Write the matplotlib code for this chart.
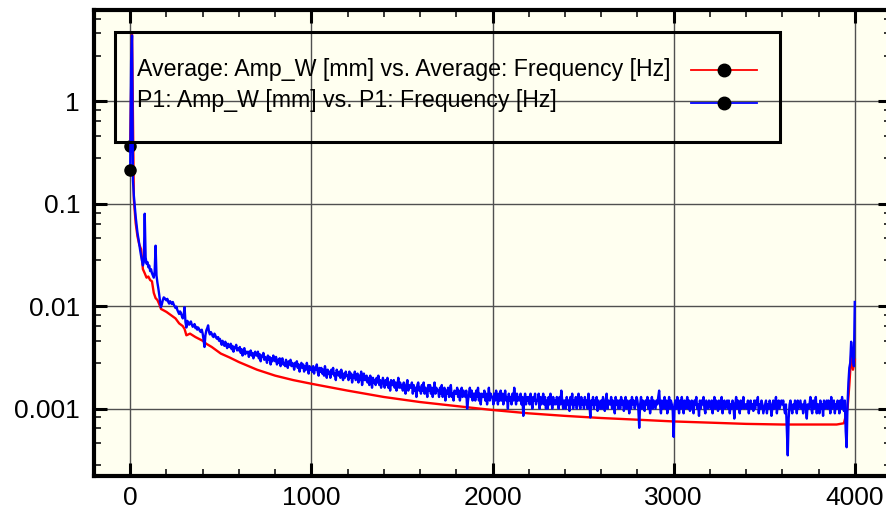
import numpy as np
import matplotlib
matplotlib.use("Agg")
import matplotlib.pyplot as plt
from matplotlib.ticker import FixedLocator, FixedFormatter, MultipleLocator, NullFormatter
from matplotlib.lines import Line2D
from matplotlib.patches import Rectangle

plt.rcParams['font.family'] = ['Liberation Sans', 'DejaVu Sans']

# ---- data -------------------------------------------------------------
# Average spectrum: frequency [Hz] and amplitude [µm]
avg_freq = [0, 10, 20, 30, 40, 50, 60, 70, 80, 90, 100, 110, 120, 130, 140,
            150, 160, 170, 180, 200, 220, 250, 270, 290, 300, 310, 330, 360,
            400, 420, 450, 500, 550, 600, 700, 800, 900, 1000, 1200, 1400,
            1600, 1800, 2000, 2200, 2400, 2600, 2800, 3000, 3200, 3400, 3600,
            3800, 3900, 3940, 3960, 3970, 3980, 3990, 4000]
avg_amp_um = [370, 4600, 110, 65, 48, 40, 36, 23, 21, 19, 19.5, 18, 17.5, 13.5, 12,
              11.5, 10.5, 9.4, 9.2, 8.8, 8.3, 7.6, 6.8, 6.4, 6.0, 5.2, 5.4, 5.0,
              4.6, 4.3, 4.0, 3.45, 3.15, 2.85, 2.4, 2.1, 1.9, 1.75, 1.5, 1.3,
              1.16, 1.06, 0.97, 0.90, 0.85, 0.81, 0.78, 0.75, 0.73, 0.71, 0.70,
              0.70, 0.70, 0.72, 1.0, 1.7, 3.3, 2.4, 3.0]

# P1 spectrum: amplitude [µm] in 5 Hz bins, 0 ... 4000 Hz (one row = 50 Hz)
p1_amp_um = [
    215, 2500, 4400, 170, 120, 95, 75, 62, 52, 46,
    40, 35, 31, 28, 25, 27, 80, 30, 26, 27,
    24, 25, 22, 23, 21, 20, 19, 22, 39, 20,
    17, 15, 13, 11, 9.8, 10.5, 11.5, 12.2, 12, 11.6,
    11.4, 11.8, 11, 10.6, 11.2, 10.8, 10.5, 11, 10.4, 10,
    9.6, 9.9, 9.2, 8.8, 8.4, 8.9, 8.6, 8.0, 7.6, 8.2,
    9.8, 7.0, 6.2, 7.2, 7.0, 6.6, 6.8, 7.1, 6.6, 6.3,
    6.4, 6.7, 6.1, 6.3, 5.9, 6.2, 6.0, 5.7, 5.6, 5.9,
    5.4, 4.7, 4.0, 5.2, 5.8, 6.1, 6.5, 5.6, 5.3, 5.6,
    5.4, 5.1, 5.0, 5.4, 5.2, 4.9, 4.8, 5.0, 4.6, 4.8,
    4.5, 4.2, 4.6, 4.3, 4.1, 4.5, 4.2, 3.9, 4.3, 4.0,
    4.0, 4.3, 3.8, 4.1, 3.6, 4.0, 3.9, 4.2, 3.7, 3.9,
    3.7, 4.0, 3.5, 3.8, 3.3, 3.7, 3.9, 3.4, 3.6, 3.5,
    3.6, 3.2, 3.5, 3.7, 3.3, 3.5, 3.1, 3.4, 3.6, 3.3,
    3.3, 3.6, 3.1, 3.4, 2.9, 3.3, 3.2, 3.5, 3.0, 3.2,
    3.1, 2.8, 3.3, 3.0, 3.2, 2.7, 3.1, 2.9, 3.3, 3.0,
    2.9, 3.2, 2.7, 3.0, 2.8, 3.1, 2.6, 2.9, 3.1, 2.7,
    2.8, 2.6, 3.0, 2.7, 2.5, 2.9, 2.7, 3.0, 2.6, 2.8,
    2.7, 2.4, 2.8, 2.6, 2.9, 2.5, 2.7, 2.3, 2.6, 2.8,
    2.5, 2.7, 2.3, 2.6, 2.4, 2.8, 2.5, 2.2, 2.6, 2.4,
    2.5, 2.3, 2.6, 2.2, 2.5, 2.4, 2.7, 2.3, 2.1, 2.5,
    2.3, 2.5, 2.2, 2.4, 2.1, 2.6, 2.3, 2.0, 2.4, 2.2,
    2.3, 2.0, 2.4, 2.2, 2.5, 2.1, 2.2, 1.9, 2.4, 2.2,
    2.1, 2.3, 2.0, 2.4, 2.1, 1.9, 2.2, 2.0, 2.3, 2.1,
    2.1, 1.9, 2.3, 2.0, 2.2, 1.8, 2.1, 2.0, 2.3, 1.9,
    2.0, 2.2, 1.8, 2.1, 1.9, 2.3, 1.7, 2.0, 2.2, 1.9,
    1.9, 2.1, 1.8, 2.0, 1.7, 2.1, 1.9, 1.6, 2.0, 1.8,
    1.9, 1.7, 2.0, 1.8, 2.1, 1.7, 1.9, 1.6, 1.8, 2.0,
    1.8, 1.6, 1.9, 1.7, 2.0, 1.6, 1.8, 1.5, 1.9, 1.7,
    1.7, 1.9, 1.6, 1.8, 1.5, 1.7, 2.0, 1.6, 1.8, 1.6,
    1.7, 1.5, 1.8, 1.6, 1.4, 1.7, 1.9, 1.5, 1.7, 1.6,
    1.6, 1.8, 1.4, 1.7, 1.5, 1.6, 1.3, 1.7, 1.8, 1.5,
    1.6, 1.4, 1.7, 1.5, 1.8, 1.4, 1.6, 1.5, 1.3, 1.7,
    1.5, 1.7, 1.4, 1.6, 1.3, 1.5, 1.8, 1.4, 1.6, 1.5,
    1.5, 1.3, 1.6, 1.4, 1.7, 1.3, 1.5, 1.6, 1.2, 1.5,
    1.4, 1.6, 1.3, 1.5, 1.7, 1.3, 1.4, 1.2, 1.5, 1.4,
    1.4, 1.6, 1.3, 1.5, 1.2, 1.4, 1.6, 1.3, 1.5, 1.4,
    1.3, 1.5, 1.0, 1.2, 1.4, 1.6, 1.3, 1.5, 1.2, 1.4,
    1.4, 1.2, 1.5, 1.3, 1.6, 1.2, 1.4, 1.1, 1.4, 1.3,
    1.3, 1.5, 1.2, 1.4, 1.1, 1.3, 1.6, 1.2, 1.4, 1.3,
    1.3, 1.1, 1.4, 1.2, 1.5, 1.3, 1.1, 1.4, 1.2, 1.5,
    1.2, 1.4, 1.1, 1.3, 1.5, 1.2, 1.3, 1.0, 1.4, 1.2,
    1.3, 1.1, 1.4, 1.2, 1.6, 1.3, 1.1, 1.4, 1.2, 1.3,
    1.2, 1.4, 1.1, 1.3, 0.85, 1.2, 1.4, 1.1, 1.3, 1.2,
    1.3, 1.1, 1.4, 1.2, 1.0, 1.3, 1.2, 1.4, 1.1, 1.2,
    1.2, 1.4, 1.0, 1.3, 1.1, 1.2, 1.4, 1.1, 1.3, 1.0,
    1.2, 1.0, 1.3, 1.1, 1.4, 1.2, 1.0, 1.3, 1.1, 1.2,
    1.1, 1.3, 1.2, 1.0, 1.3, 1.1, 1.5, 1.2, 1.0, 1.2,
    1.2, 1.0, 1.3, 1.1, 1.2, 0.95, 1.3, 1.1, 1.4, 1.0,
    1.2, 1.1, 1.3, 1.0, 1.2, 1.4, 1.1, 1.0, 1.3, 1.1,
    1.2, 1.0, 1.3, 1.1, 1.2, 1.0, 1.4, 1.1, 0.82, 1.2,
    1.1, 1.3, 1.0, 1.2, 1.1, 1.3, 0.95, 1.2, 1.1, 1.0,
    1.2, 1.0, 1.3, 1.1, 0.95, 1.2, 1.4, 1.0, 1.2, 1.1,
    1.1, 1.3, 1.0, 1.2, 1.1, 0.9, 1.3, 1.1, 1.2, 1.0,
    1.2, 1.0, 1.3, 1.1, 1.2, 0.95, 1.1, 1.3, 1.0, 1.2,
    1.1, 0.9, 1.2, 1.0, 1.3, 1.1, 1.2, 1.0, 1.1, 1.3,
    1.2, 1.0, 0.65, 1.1, 1.3, 1.0, 1.2, 1.1, 0.95, 1.2,
    1.1, 1.3, 1.0, 1.2, 0.9, 1.1, 1.3, 1.0, 1.2, 1.1,
    1.0, 1.2, 1.1, 1.3, 1.5, 1.1, 0.9, 1.2, 1.0, 1.1,
    1.3, 1.0, 1.2, 0.9, 1.1, 1.3, 1.0, 1.2, 1.1, 0.95,
    0.53, 1.1, 1.2, 1.0, 1.3, 1.1, 0.9, 1.2, 1.0, 1.3,
    1.1, 0.9, 1.2, 1.0, 1.1, 1.3, 1.0, 1.2, 0.95, 1.1,
    1.2, 1.0, 0.9, 1.2, 1.1, 1.3, 1.0, 1.1, 0.85, 1.2,
    1.0, 1.2, 1.1, 1.3, 1.0, 0.9, 1.2, 1.1, 1.0, 1.2,
    1.1, 1.0, 1.2, 0.9, 1.1, 1.3, 1.0, 1.2, 1.1, 0.95,
    1.2, 1.0, 1.1, 1.3, 0.9, 1.1, 1.2, 1.0, 1.1, 1.2,
    1.0, 1.2, 0.9, 1.1, 1.0, 1.2, 1.1, 0.8, 1.1, 1.3,
    1.0, 1.2, 1.1, 0.9, 1.2, 1.0, 1.1, 1.3, 1.0, 1.1,
    1.1, 1.0, 1.2, 0.9, 1.1, 1.2, 1.0, 1.1, 0.95, 1.2,
    1.0, 1.2, 1.1, 1.3, 0.9, 1.1, 1.0, 1.2, 1.1, 0.9,
    1.0, 1.1, 1.2, 0.9, 1.1, 1.0, 1.2, 1.1, 0.85, 1.0,
    1.2, 1.0, 1.1, 1.3, 0.9, 1.1, 1.2, 1.0, 1.1, 1.2,
    1.1, 1.2, 1.0, 0.9, 1.1, 0.6, 0.35, 0.8, 1.1, 1.2,
    1.0, 0.9, 1.1, 1.0, 1.2, 1.1, 0.9, 1.2, 1.0, 1.1,
    1.2, 1.0, 1.1, 0.9, 1.1, 1.2, 1.0, 0.8, 1.1, 1.0,
    1.1, 1.3, 1.0, 0.9, 1.2, 1.0, 1.1, 1.3, 0.9, 1.1,
    1.1, 0.9, 1.2, 1.0, 1.1, 0.85, 1.2, 1.0, 1.1, 1.2,
    1.0, 1.2, 1.1, 0.9, 1.3, 1.0, 1.1, 1.2, 0.9, 1.1,
    1.0, 1.2, 1.1, 0.9, 1.2, 1.0, 1.3, 1.1, 0.95, 1.2,
    0.6, 0.42, 1.1, 1.8, 2.5, 2.8, 4.5, 3.6, 3.2, 2.6,
    11,
]
p1_freq = np.arange(len(p1_amp_um)) * 5.0   # bin centres [Hz]

legend_labels = ["Average: Amp_W [mm] vs. Average: Frequency [Hz]",
                 "P1: Amp_W [mm] vs. P1: Frequency [Hz]"]
series_colors = ["#ff0000", "#0000ff"]

x_major = [0, 1000, 2000, 3000, 4000]
x_labels = ["0", "1000", "2000", "3000", "4000"]
y_major = [1e-3, 1e-2, 1e-1, 1]
y_labels = ["0.001", "0.01", "0.1", "1"]
y_minor_mantissa = [2.8, 4.6, 6.4, 8.2]

# ---- figure -----------------------------------------------------------
W, H = 886, 517
fig = plt.figure(figsize=(W / 100, H / 100), dpi=100, facecolor="white")
ax_l, ax_r, ax_t, ax_b = 94, 891, 10, 476
ax = fig.add_axes([ax_l / W, (H - ax_b) / H, (ax_r - ax_l) / W, (ax_b - ax_t) / H])
ax.set_facecolor("#fffff0")

avg_mm = np.array(avg_amp_um) / 1000.0
p1_mm = np.array(p1_amp_um) / 1000.0

ax.plot(avg_freq, avg_mm, color=series_colors[0], lw=1.7, zorder=3,
        marker="o", markevery=[0], ms=8, mfc="black", mec="black")
ax.plot(p1_freq, p1_mm, color=series_colors[1], lw=1.7, zorder=4,
        marker="o", markevery=[0], ms=8, mfc="black", mec="black")

ax.set_yscale("log")
ax.set_xlim(-200, 4200)
ax.set_ylim(2.2e-4, 7.8)

ax.xaxis.set_major_locator(FixedLocator(x_major))
ax.xaxis.set_major_formatter(FixedFormatter(x_labels))
ax.xaxis.set_minor_locator(MultipleLocator(200))
ax.yaxis.set_major_locator(FixedLocator(y_major))
ax.yaxis.set_major_formatter(FixedFormatter(y_labels))
minor_y = [m * 10.0 ** k for k in range(-4, 1) for m in y_minor_mantissa]
ax.yaxis.set_minor_locator(FixedLocator(minor_y))
ax.yaxis.set_minor_formatter(NullFormatter())

ax.grid(True, which="major", color="#505050", lw=1.0, zorder=1)
ax.set_axisbelow(True)

for s in ax.spines.values():
    s.set_linewidth(3.0)
    s.set_color("black")
    s.set_zorder(6)

ax.tick_params(which="both", direction="in", top=True, right=True, colors="black",
               labelsize=19)
ax.tick_params(which="major", length=9.5, width=2.2)
ax.tick_params(which="minor", length=5, width=1.1)
ax.tick_params(axis="x", which="major", pad=7)
ax.tick_params(axis="y", which="major", pad=10)

# ---- legend box -------------------------------------------------------
def fx(px):
    return (px - ax_l) / (ax_r - ax_l)

def fy(py):
    return (ax_b - py) / (ax_b - ax_t)

ax.add_patch(Rectangle((fx(115), fy(142)), fx(780) - fx(115), fy(32) - fy(142),
                       transform=ax.transAxes, fill=False, ec="black", lw=2.2,
                       zorder=7, clip_on=False))
for label, color, base, yl in zip(legend_labels, series_colors, (76, 107.3), (70, 103.3)):
    ax.text(fx(137), fy(base), label, transform=ax.transAxes, fontsize=16.7,
            va="baseline", ha="left", color="black", zorder=8)
    ax.add_line(Line2D([fx(691), fx(757)], [fy(yl), fy(yl)], transform=ax.transAxes,
                       color=color, lw=1.3, zorder=8))
    ax.add_line(Line2D([fx(724)], [fy(yl)], transform=ax.transAxes, marker="o",
                       ms=9, mfc="black", mec="black", ls="none", zorder=9))

fig.savefig("out.png", dpi=100, facecolor="white")
